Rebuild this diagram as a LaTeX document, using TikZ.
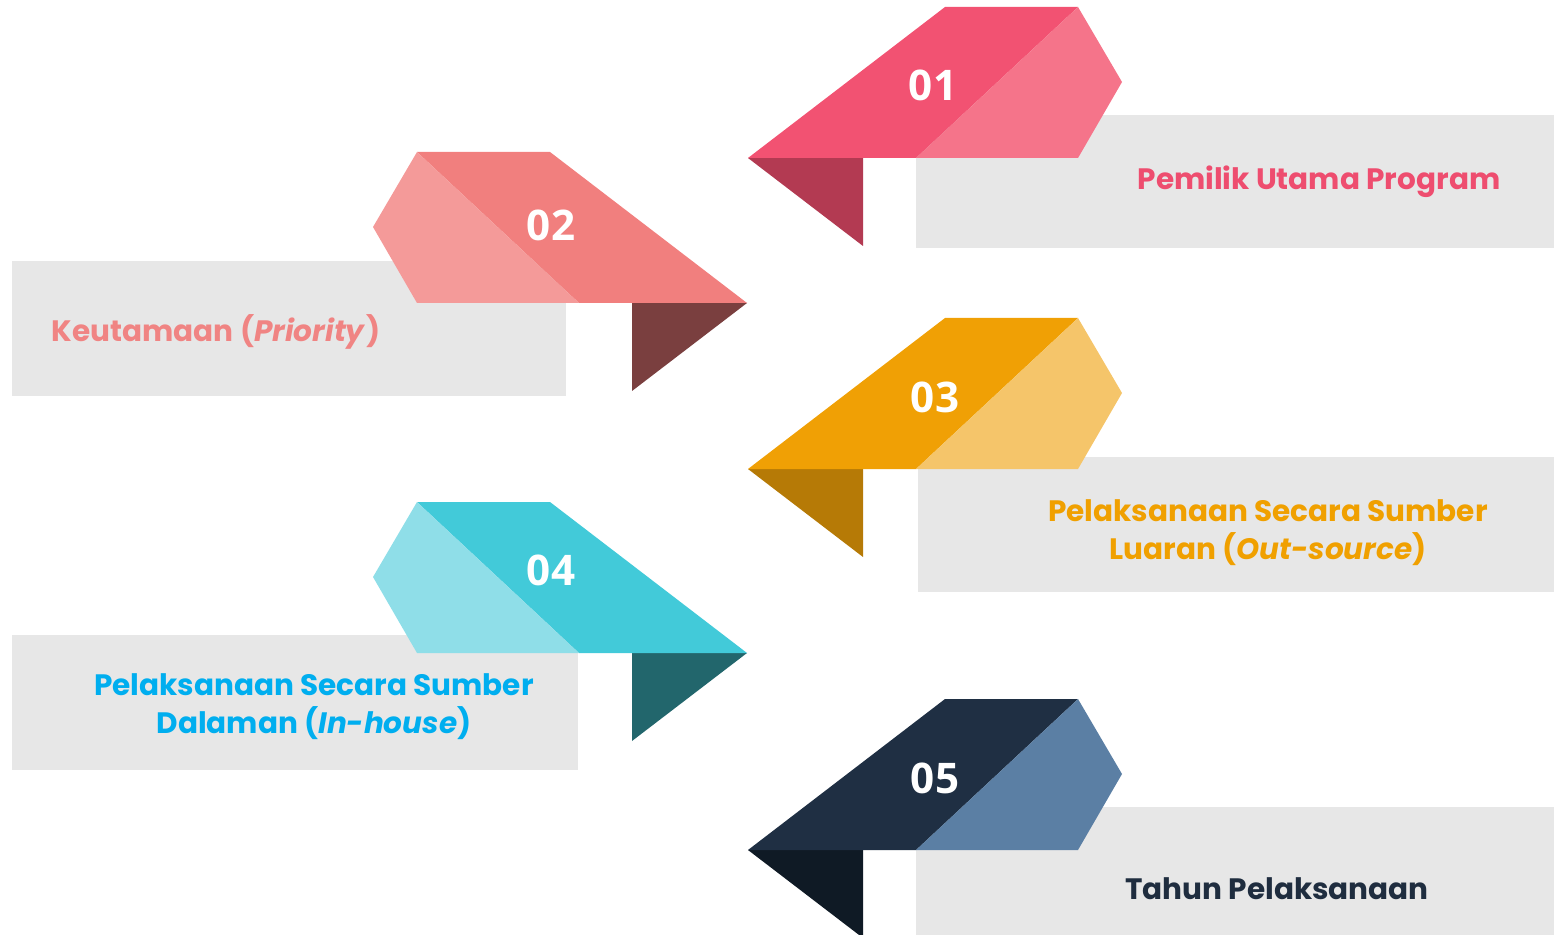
\documentclass[tikz,border=0pt]{standalone}
\usepackage{fontspec}
\setmainfont{Poppins}
\newfontfamily\numfont{Open Sans}
\usetikzlibrary{positioning}

% ribbon colours
\definecolor{redA}{HTML}{F25272}
\definecolor{redB}{HTML}{F5748A}
\definecolor{redC}{HTML}{B33A52}
\definecolor{redT}{HTML}{EE4D6F}
\definecolor{salA}{HTML}{F17F7E}
\definecolor{salB}{HTML}{F49A99}
\definecolor{salC}{HTML}{7A3F3F}
\definecolor{salT}{HTML}{F08483}
\definecolor{ornA}{HTML}{F0A005}
\definecolor{ornB}{HTML}{F5C56A}
\definecolor{ornC}{HTML}{B67A06}
\definecolor{ornT}{HTML}{F0A000}
\definecolor{cyaA}{HTML}{42CAD9}
\definecolor{cyaB}{HTML}{8FDEE8}
\definecolor{cyaC}{HTML}{22666C}
\definecolor{cyaT}{HTML}{00AEEF}
\definecolor{navA}{HTML}{1F2F43}
\definecolor{navB}{HTML}{5B7FA4}
\definecolor{navC}{HTML}{0F1A25}
\definecolor{navT}{HTML}{1F2D3F}
\definecolor{boxgray}{HTML}{E7E7E7}

% one folded ribbon, tip at (0,0); #1 dark, #2 light, #3 shadow
\newcommand{\ribbon}[3]{%
    \fill[#3] (0,0) -- (115,0) -- (115,88) -- cycle;
    \fill[#1] (0,0) -- (197,-151) -- (330,-151) -- (168,0) -- cycle;
    \fill[#2] (168,0) -- (330,-151) -- (374,-76) -- (330,0) -- cycle;
}

\begin{document}
\begin{tikzpicture}[
    x=0.02cm, y=-0.02cm,
    panel/.style={fill=boxgray},
    number/.style={text=white, font=\numfont\bfseries\fontsize{24}{24}\selectfont},
    label/.style={font=\bfseries\fontsize{16.8}{21.5}\selectfont, align=center}
]
    \useasboundingbox (0,0) rectangle (1554,935);
    \clip (0,0) rectangle (1554,935);

    % Grey panels
    \fill[panel] (916,115) rectangle (1554,248);
    \fill[panel] (12,261) rectangle (566,396);
    \fill[panel] (918,457) rectangle (1554,592);
    \fill[panel] (12,635) rectangle (578,770);
    \fill[panel] (916,807) rectangle (1554,935);

    % Ribbons on the right
    \begin{scope}[shift={(748,158)}]
        \ribbon{redA}{redB}{redC}
    \end{scope}
    \begin{scope}[shift={(748,469)}]
        \ribbon{ornA}{ornB}{ornC}
    \end{scope}
    \begin{scope}[shift={(748,850)}]
        \ribbon{navA}{navB}{navC}
    \end{scope}

    % Ribbons on the left (mirrored)
    \begin{scope}[shift={(747,303)}, xscale=-1]
        \ribbon{salA}{salB}{salC}
    \end{scope}
    \begin{scope}[shift={(747,653)}, xscale=-1]
        \ribbon{cyaA}{cyaB}{cyaC}
    \end{scope}

    % Numbers
    \node[number] (n1) at (933,85) {01};
    \node[number] (n2) at (551,225) {02};
    \node[number] (n3) at (935,397) {03};
    \node[number] (n4) at (551,570) {04};
    \node[number] (n5) at (935,778) {05};

    % Labels
    \node[label, text=redT] (pemilik) at (1319,182) {Pemilik Utama Program};
    \node[label, text=salT] (keutamaan) at (216,332) {Keutamaan (\textit{Priority})};
    \node[label, text=ornT] (luaran) at (1268,533) {Pelaksanaan Secara Sumber\\Luaran (\textit{Out-source})};
    \node[label, text=cyaT] (dalaman) at (314,707) {Pelaksanaan Secara Sumber\\Dalaman (\textit{In-house})};
    \node[label, text=navT] (tahun) at (1277,889) {Tahun Pelaksanaan};

\end{tikzpicture}
\end{document}
